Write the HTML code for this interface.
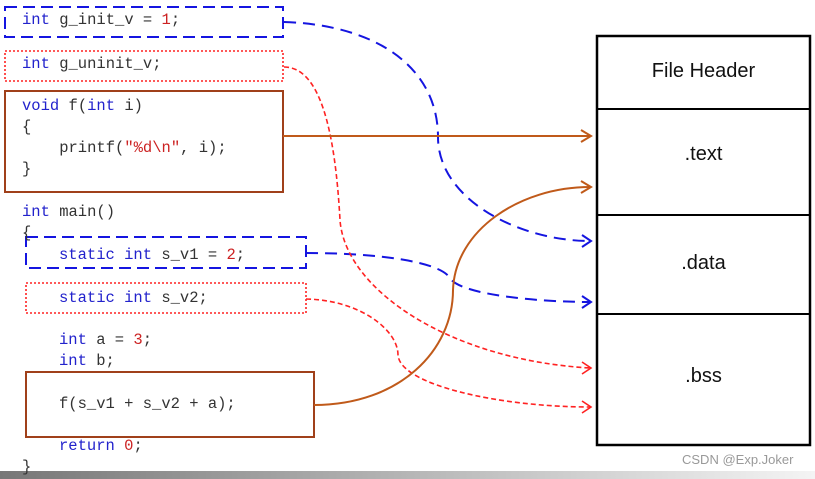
<!DOCTYPE html>
<html><head><meta charset="utf-8"><style>
body{margin:0;width:815px;height:479px;background:#fff;position:relative;overflow:hidden;font-family:"Liberation Mono",monospace}
.c{position:absolute;font-size:15.5px;color:#333;white-space:pre;line-height:21px}
.k{color:#2222cc}.n{color:#cc2222}
.lbl{position:absolute;font-family:"Liberation Sans",sans-serif;font-size:20px;color:#111;width:213px;text-align:center;left:597px}
</style></head><body>
<svg width="815" height="479" style="position:absolute;left:0;top:0">
<defs>
<linearGradient id="g" x1="0" x2="1"><stop offset="0" stop-color="#777"/><stop offset="1" stop-color="#f4f4f4"/></linearGradient>
</defs>
<rect x="0" y="471" width="815" height="8" fill="url(#g)"/>
<rect x="5" y="7" width="278" height="30" fill="none" stroke="#1515e0" stroke-width="2" stroke-dasharray="12,6"/>
<rect x="5" y="51" width="278" height="30" fill="none" stroke="#f22" stroke-width="1.6" stroke-dasharray="2,2"/>
<rect x="5" y="91" width="278" height="101" fill="none" stroke="#a0401a" stroke-width="2"/>
<rect x="26" y="237" width="280" height="31" fill="none" stroke="#1515e0" stroke-width="2" stroke-dasharray="12,6"/>
<rect x="26" y="283" width="280" height="30" fill="none" stroke="#f22" stroke-width="1.6" stroke-dasharray="2,2"/>
<rect x="26" y="372" width="288" height="65" fill="none" stroke="#a0401a" stroke-width="2"/>
<rect x="597" y="36" width="213" height="409" fill="none" stroke="#000" stroke-width="2.5"/>
<line x1="597" y1="109" x2="810" y2="109" stroke="#000" stroke-width="2"/>
<line x1="597" y1="215" x2="810" y2="215" stroke="#000" stroke-width="2"/>
<line x1="597" y1="314" x2="810" y2="314" stroke="#000" stroke-width="2"/>
<g fill="none" stroke-width="2">
<path d="M284,22 C380,25 438,70 438,137 C438,200 520,241 590,241" stroke="#1515e0" stroke-dasharray="12,7"/>
<path d="M306,253 C380,253 440,262 450,278 C460,295 540,302 590,302" stroke="#1515e0" stroke-dasharray="12,7"/>
<path d="M284,67 C320,67 335,130 340,220 C345,290 450,360 590,368" stroke="#f22" stroke-width="1.6" stroke-dasharray="5,3"/>
<path d="M306,299 C360,300 398,330 398,355 C400,385 500,407 590,407" stroke="#f22" stroke-width="1.6" stroke-dasharray="5,3"/>
<path d="M283,136 L590,136" stroke="#c05a1a"/>
<path d="M314,405 C400,405 453,350 453,290 C455,230 520,187 590,187" stroke="#c05a1a"/>
<path d="M581,130 L591,136 L581,142 M581,181 L591,187 L581,193" stroke="#c05a1a"/>
<path d="M582,235 L591,241 L582,247 M582,296 L591,302 L582,308" stroke="#1515e0"/>
<path d="M582,362 L591,368 L582,374 M582,401 L591,407 L582,413" stroke="#f22" stroke-width="1.6"/>
</g>
</svg>
<div class="c" style="left:22px;top:10px"><span class="k">int</span> g_init_v = <span class="n">1</span>;</div>
<div class="c" style="left:22px;top:54px"><span class="k">int</span> g_uninit_v;</div>
<div class="c" style="left:22px;top:96px"><span class="k">void</span> f(<span class="k">int</span> i)
{
    printf(<span class="n">"%d\n"</span>, i);
}</div>
<div class="c" style="left:22px;top:202px"><span class="k">int</span> main()
{</div>
<div class="c" style="left:59px;top:245px"><span class="k">static int</span> s_v1 = <span class="n">2</span>;</div>
<div class="c" style="left:59px;top:288px"><span class="k">static int</span> s_v2;</div>
<div class="c" style="left:59px;top:330px"><span class="k">int</span> a = <span class="n">3</span>;
<span class="k">int</span> b;</div>
<div class="c" style="left:59px;top:394px">f(s_v1 + s_v2 + a);</div>
<div class="c" style="left:59px;top:436px"><span class="k">return</span> <span class="n">0</span>;</div>
<div class="c" style="left:22px;top:457px">}</div>
<div class="lbl" style="top:60px">File Header</div>
<div class="lbl" style="top:143px">.text</div>
<div class="lbl" style="top:252px">.data</div>
<div class="lbl" style="top:365px">.bss</div>
<div style="position:absolute;left:682px;top:452px;font-family:'Liberation Sans',sans-serif;font-size:13px;color:#999">CSDN @Exp.Joker</div>
</body></html>
